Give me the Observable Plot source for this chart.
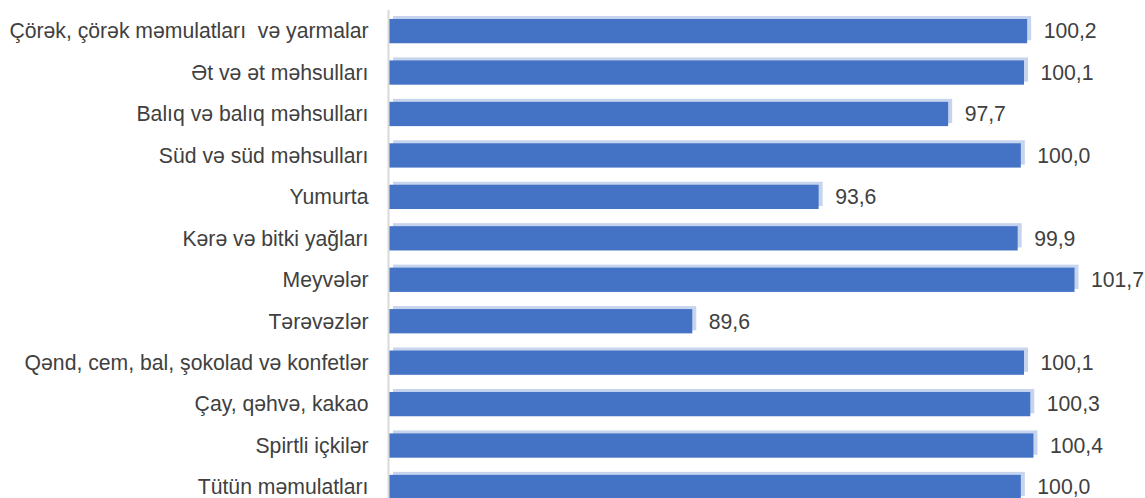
<!DOCTYPE html>
<html>
<head>
<meta charset="utf-8">
<script src="https://cdn.jsdelivr.net/npm/d3@7"></script>
<script src="https://cdn.jsdelivr.net/npm/@observablehq/plot@0.6"></script>
<style>
  html, body { margin: 0; padding: 0; background: #fff; overflow: hidden; }
  #chart { width: 1145px; height: 498px; overflow: hidden; }
</style>
</head>
<body>
<div id="chart"></div>
<script>
const categories = [
  "Çörək, çörək məmulatları  və yarmalar",
  "Ət və ət məhsulları",
  "Balıq və balıq məhsulları",
  "Süd və süd məhsulları",
  "Yumurta",
  "Kərə və bitki yağları",
  "Meyvələr",
  "Tərəvəzlər",
  "Qənd, cem, bal, şokolad və konfetlər",
  "Çay, qəhvə, kakao",
  "Spirtli içkilər",
  "Tütün məmulatları"
];
const values = [100.2, 100.1, 97.7, 100.0, 93.6, 99.9, 101.7, 89.6, 100.1, 100.3, 100.4, 100.0];
const xDomain = [80, 102];

const data = categories.map((c, i) => ({category: c, value: values[i]}));
const fmt = v => v.toFixed(1).replace(".", ",");
const font = "Liberation Sans, Arial, sans-serif";

const chart = Plot.plot({
  width: 1145,
  height: 498,
  marginLeft: 389,
  marginRight: 61,
  marginTop: 10,
  marginBottom: 0,
  style: {fontFamily: font, background: "#fff"},
  x: {domain: xDomain, axis: null},
  y: {domain: categories, range: [1.8, 516.3], padding: 0.414, round: false, label: null},
  marks: [
    Plot.barX(data, {x1: xDomain[0], x2: "value", y: "category", fill: "#c6d4ee", dx: 4, dy: -3}),
    Plot.barX(data, {x1: xDomain[0], x2: "value", y: "category", fill: "#4472c4"}),
    Plot.ruleX([xDomain[0]], {stroke: "#d9d9d9", strokeWidth: 2, dx: -1}),
    Plot.axisY({tickSize: 0, tickPadding: 21, fontSize: 21.2, fill: "#404040", label: null}),
    Plot.text(data, {x: "value", y: "category", text: d => fmt(d.value), textAnchor: "start", dx: 16, fontSize: 21.2, fill: "#404040"})
  ]
});
document.getElementById("chart").appendChild(chart);
</script>
</body>
</html>
